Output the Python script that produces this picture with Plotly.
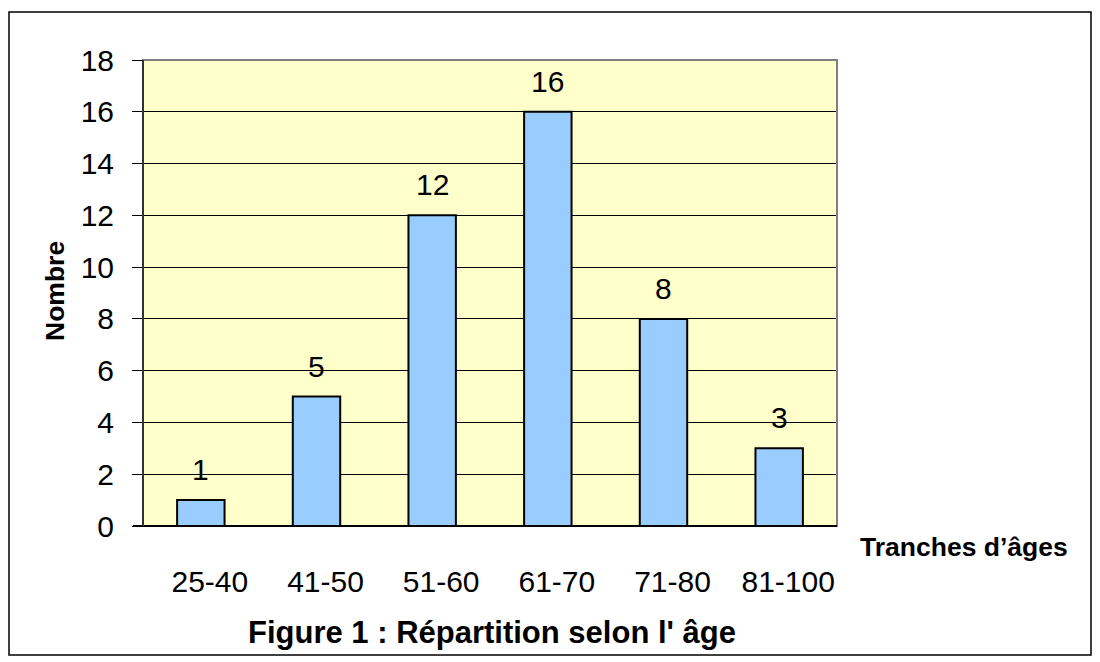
import plotly.graph_objects as go

categories = ["25-40", "41-50", "51-60", "61-70", "71-80", "81-100"]
values = [1, 5, 12, 16, 8, 3]
y_ticks = [0, 2, 4, 6, 8, 10, 12, 14, 16, 18]

# page has an 8px body margin, so the figure is drawn 8px smaller / shifted
W, H = 1092, 654
L, T = 135, 52
pw, ph = 694, 466
R, B = W - L - pw, H - T - ph


def px(x):  # reference page x -> paper coordinate
    return (x - 8 - L) / pw


def py(y):  # reference page y -> paper coordinate
    return (T + ph - (y - 8)) / ph


font = "Arial, Liberation Sans, sans-serif"

fig = go.Figure()
fig.add_trace(go.Bar(
    x=categories, y=values, width=0.41,
    marker=dict(color="#99CCFF", line=dict(color="black", width=2)),
    hoverinfo="x+y",
))

for c, v in zip(categories, values):
    fig.add_annotation(x=c, y=v, text=str(v), showarrow=False, yanchor="bottom",
                       yshift=12, font=dict(family=font, size=30, color="black"))

fig.update_layout(
    width=W, height=H,
    margin=dict(l=L, r=R, t=T, b=B),
    paper_bgcolor="white", plot_bgcolor="#FFFFCC",
    showlegend=False,
    font=dict(family=font, color="black"),
    xaxis=dict(
        type="category", showgrid=False, zeroline=False,
        showline=False, ticks="",
        tickfont=dict(size=30), ticklabelstandoff=35, ticklabelshift=9,
    ),
    yaxis=dict(
        range=[0, 18], tickvals=y_ticks, showgrid=True, gridcolor="black", gridwidth=1,
        zeroline=False, showline=False, ticks="outside", ticklen=10, tickcolor="black",
        tickwidth=1, tickfont=dict(size=30), ticklabelstandoff=12,
    ),
)

# plot frame
fig.add_shape(type="rect", xref="paper", yref="paper", x0=0, x1=1, y0=0, y1=1,
              line=dict(color="#808080", width=2), layer="above")
fig.add_shape(type="line", xref="paper", yref="paper", x0=-10 / pw, x1=1, y0=0, y1=0,
              line=dict(color="black", width=2), layer="above")
fig.add_shape(type="line", xref="paper", yref="paper", x0=0, x1=0, y0=0, y1=1,
              line=dict(color="#333333", width=2), layer="above")
# outer border
fig.add_shape(type="rect", xref="paper", yref="paper",
              x0=px(9), x1=px(1091), y0=py(655), y1=py(12),
              line=dict(color="black", width=1.5))

fig.add_annotation(xref="paper", yref="paper", x=px(55), y=py(291),
                   text="<b>Nombre</b>", textangle=-90, showarrow=False,
                   font=dict(size=26.5, family=font), xanchor="center", yanchor="middle")
fig.add_annotation(xref="paper", yref="paper", x=px(858), y=py(547),
                   text="<b>Tranches d’âges</b>", showarrow=False,
                   font=dict(size=26.5, family=font), xanchor="left", yanchor="middle")
fig.add_annotation(xref="paper", yref="paper", x=px(246), y=py(632),
                   text="<b>Figure 1 : Répartition selon l' âge</b>", showarrow=False,
                   font=dict(size=31, family=font), xanchor="left", yanchor="middle")

fig.write_html("out.html")
